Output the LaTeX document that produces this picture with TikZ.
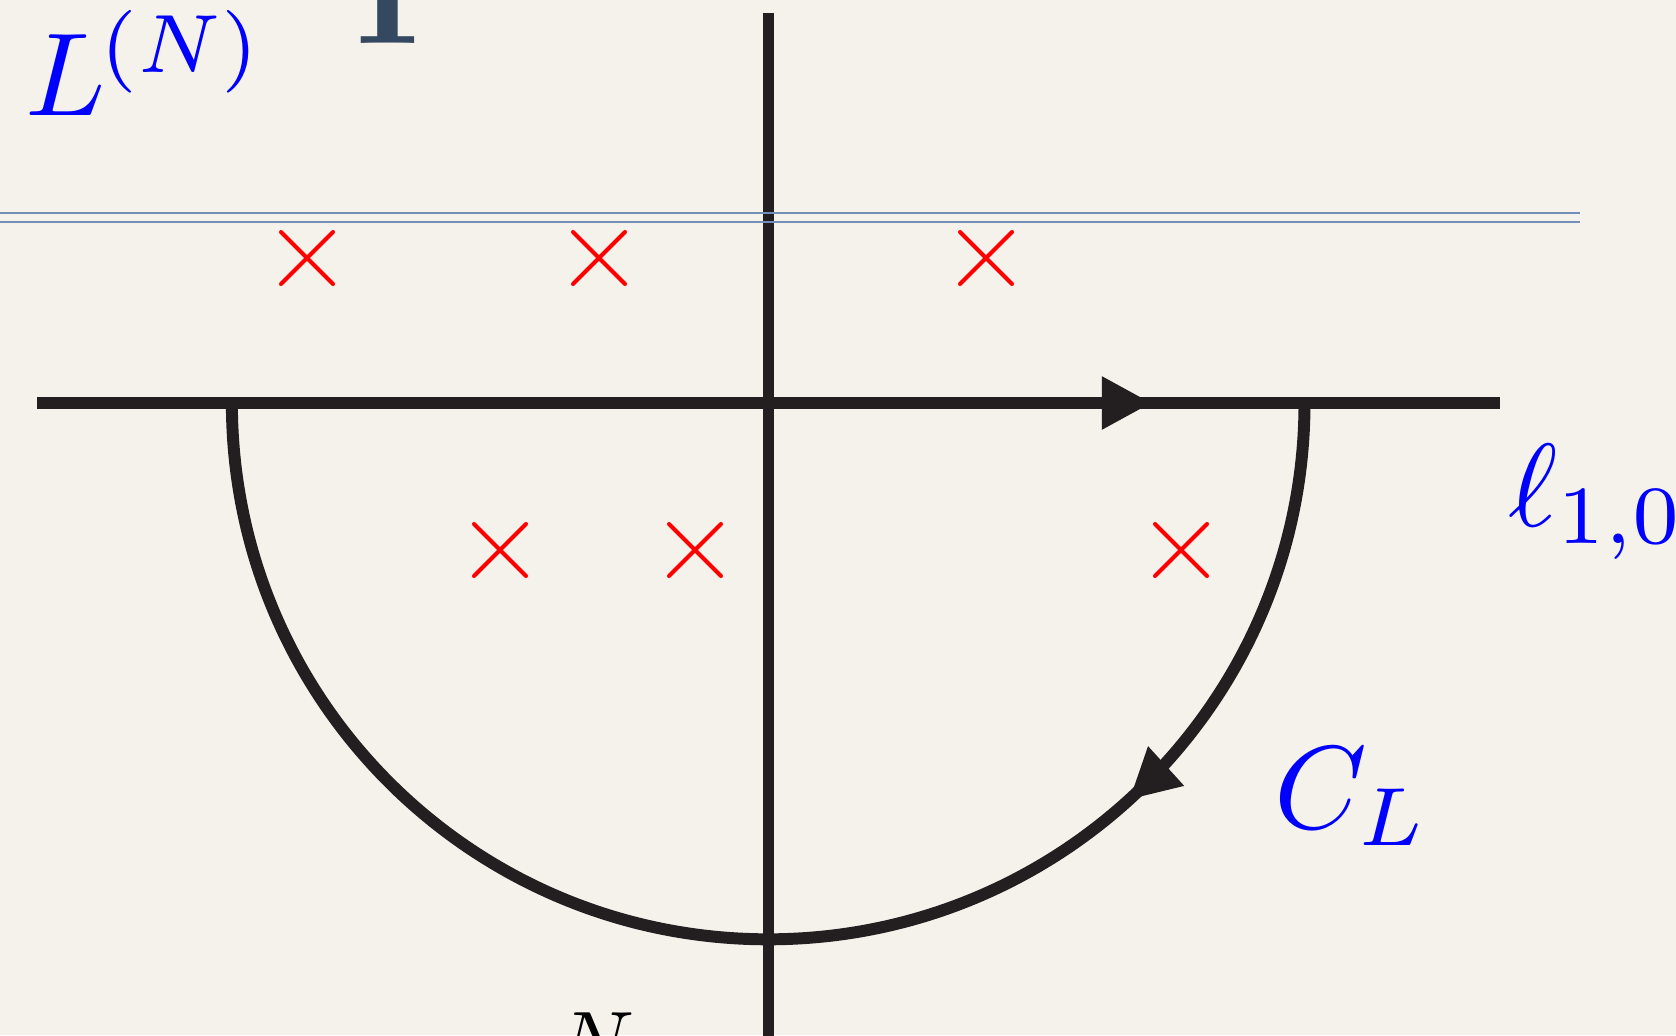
\documentclass[tikz,border=0pt]{standalone}
\usepackage{tikz}
\usetikzlibrary{arrows.meta,decorations.markings}
\definecolor{paper}{RGB}{245,242,236}
\definecolor{ink}{RGB}{35,31,32}
\definecolor{slate}{RGB}{52,72,96}
\definecolor{cutline}{RGB}{115,143,182}
\tikzset{axline/.style={draw,color=ink,line width=3.4pt},
 pole/.style={draw=red,line width=1.15pt,line cap=round},
 lbl/.style={text=blue,scale=3.36,inner sep=0pt,anchor=base west},
 midarr/.style={postaction={decorate},decoration={markings,
  mark=at position #1 with {\arrow{Triangle[length=5mm,width=5mm]}}}}}

\begin{document}
\begin{tikzpicture}[x=0.01cm,y=0.01cm]
\useasboundingbox (0,0) rectangle (1676,1035);
\clip (0,0) rectangle (1676,1035);
\fill[paper] (0,0) rectangle (1676,1035);
\coordinate (O) at (768.5,632);
% axes
\draw[axline] (768.5,1022)--(768.5,-10);
\draw[axline,midarr=0.762] (37,632)--(1500,632);
% contour
\draw[axline,midarr=0.265] (1304.5,632) arc[start angle=0,end angle=-180,radius=5.36cm];
% cut
\draw[cutline,line width=0.8pt] (0,822)--(1580,822) (0,813)--(1580,813);
% poles
\foreach \px/\py in {307/777,599/777,986/777,500/485,695/485,1181/485}{
 \draw[pole] (\px-26,\py-26)--(\px+26,\py+26) (\px-26,\py+26)--(\px+26,\py-26);}
% labels
\node[lbl] (lN) at (23,920) {$L^{\mkern-1mu(N)}$};
\node[lbl] (ell) at (1506,509) {$\ell_{1,0}$};
\node[lbl] (CL) at (1272,207) {$C_L$};
\node[lbl,text=black,scale=2.4/3.36] (Nbot) at (556,-35) {$N$};
\node[text=slate,scale=4.1,inner sep=0pt,anchor=base,font=\bfseries] (Itop) at (388,992) {I};
\end{tikzpicture}
\end{document}
